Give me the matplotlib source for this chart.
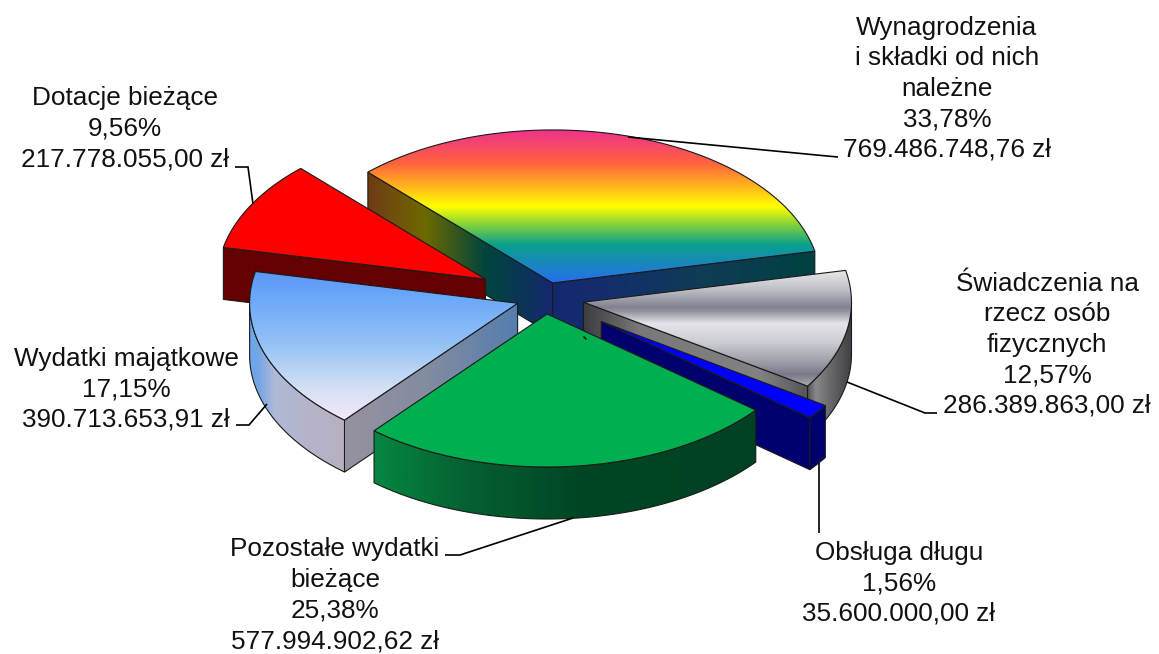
import numpy as np
import matplotlib
matplotlib.use('Agg')
import matplotlib.pyplot as plt
from matplotlib.patches import Polygon

# data
names = ['Wynagrodzenia\ni składki od nich\nnależne', 'Świadczenia na\nrzecz osób\nfizycznych', 'Obsługa długu',
         'Pozostałe wydatki\nbieżące', 'Wydatki majątkowe', 'Dotacje bieżące']
percents = [33.78, 12.57, 1.56, 25.38, 17.15, 9.56]
amounts = [769486748.76, 286389863.00, 35600000.00, 577994902.62, 390713653.91, 217778055.00]

# pie shape, in pixels
cx, cy = 544.5, 298
rx, ry = 268, 153
depth = 52
start_angle = 133.6
explode = [0.103, 0.148, 0.262, 0.105, 0.106, 0.252]

# centre of each label and baseline of its last line
label_pos = [(947, 157), (1047, 413), (899, 621), (335, 648), (126, 427), (125, 166)]
leaders = [[(628, 137), (827, 156), (838, 157)],
           [(847, 382), (925, 413), (937, 413)],
           [(819, 463), (819, 533)],
           [(573, 518), (460, 555), (445, 555)],
           [(267, 404), (249, 425), (236, 425)],
           [(253, 204), (248, 167), (235, 167)]]

# colour stops: (position 0-1, rgb)
top_styles = [
    [(0, (240, 50, 140)), (0.22, (255, 100, 60)), (0.5, (255, 255, 0)), (0.62, (130, 210, 60)),
     (0.75, (10, 160, 140)), (1, (40, 110, 240))],
    [(0, (232, 232, 236)), (0.17, (190, 190, 198)), (0.32, (130, 130, 145)), (0.36, (150, 150, 162)),
     (0.46, (228, 228, 234)), (0.62, (205, 205, 212)), (0.82, (150, 150, 162)), (0.9, (120, 120, 135)),
     (1, (170, 170, 180))],
    [(0, (0, 0, 255)), (1, (0, 0, 255))],
    [(0, (0, 175, 80)), (1, (0, 175, 80))],
    [(0, (90, 150, 245)), (0.2, (110, 170, 250)), (0.5, (150, 195, 245)), (0.8, (215, 225, 245)), (1, (245, 232, 250))],
    [(0, (255, 0, 0)), (1, (255, 0, 0))],
]
side_styles = [
    [(0, (110, 60, 20)), (0.126, (110, 105, 0)), (0.26, (0, 70, 60)), (0.41, (20, 40, 110)), (0.52, (20, 45, 110)),
     (0.75, (15, 60, 85)), (1, (0, 65, 65))],
    [(0, (60, 60, 65)), (0.21, (120, 120, 122)), (0.66, (130, 130, 130)), (0.84, (85, 85, 88)), (0.87, (135, 135, 140)),
     (0.93, (100, 100, 105)), (1, (65, 65, 70))],
    [(0, (0, 0, 110)), (1, (0, 0, 110))],
    [(0, (5, 135, 65)), (0.25, (5, 95, 50)), (0.54, (0, 70, 35)), (1, (0, 65, 35))],
    [(0, (110, 165, 235)), (0.03, (115, 165, 230)), (0.09, (175, 185, 215)), (0.355, (185, 175, 190)), (0.357, (150, 145, 160)),
     (0.67, (130, 140, 160)), (1, (85, 125, 175))],
    [(0, (100, 0, 0)), (1, (100, 0, 0))],
]

plt.rcParams['font.family'] = 'Liberation Sans'
fig = plt.figure(figsize=(11.59, 6.54), dpi=100)
ax = fig.add_axes([0, 0, 1, 1])
ax.set_xlim(0, 1159)
ax.set_ylim(654, 0)
ax.axis('off')

z = 1


def fill_gradient(verts, stops, vertical, lo, hi):
    # gradient image cut down to the polygon
    global z
    verts = np.array(verts)
    pos = [s[0] for s in stops]
    rgb = np.array([s[1] for s in stops]) / 255
    t = np.linspace(0, 1, 400)
    col = np.stack([np.interp(t, pos, rgb[:, i]) for i in range(3)], axis=1)
    if vertical:
        img = col[:, None, :]
        extent = (verts[:, 0].min(), verts[:, 0].max(), hi, lo)
    else:
        img = col[None, :, :]
        extent = (lo, hi, verts[:, 1].max(), verts[:, 1].min())
    im = ax.imshow(img, extent=extent, aspect='auto', origin='upper', zorder=z, interpolation='bilinear')
    poly = Polygon(verts, closed=True, facecolor='none', edgecolor='#1a1a1a', linewidth=0.8, zorder=z + 1)
    ax.add_patch(poly)
    im.set_clip_path(poly)
    z += 2


def rim(x0, y0, a0, a1):
    ang = np.radians(np.linspace(a0, a1, 120))
    return np.column_stack([x0 + rx * np.cos(ang), y0 - ry * np.sin(ang)])


total = sum(amounts)
sweeps = [360 * a / total for a in amounts]
starts = start_angle - np.concatenate([[0], np.cumsum(sweeps)[:-1]])
slices = []
for i in range(len(amounts)):
    a0 = starts[i]
    a1 = a0 - sweeps[i]
    mid = np.radians((a0 + a1) / 2)
    slices.append((a0, a1, cx + explode[i] * rx * np.cos(mid), cy - explode[i] * ry * np.sin(mid)))

# back to front
for i in [0, 5, 1, 4, 2, 3]:
    a0, a1, x0, y0 = slices[i]
    arc = rim(x0, y0, a0, a1)
    lo, hi = arc[:, 0].min(), arc[:, 0].max()
    lo, hi = min(lo, x0), max(hi, x0)

    # faces going down from the two straight edges, if they face the viewer
    if np.sin(np.radians(a0 + 90)) < 0:
        p = arc[0]
        fill_gradient([(x0, y0), p, (p[0], p[1] + depth), (x0, y0 + depth)], side_styles[i], False, lo, hi)
    if np.sin(np.radians(a1 - 90)) < 0:
        p = arc[-1]
        fill_gradient([(x0, y0), p, (p[0], p[1] + depth), (x0, y0 + depth)], side_styles[i], False, lo, hi)

    # outer wall, front part only
    front = np.sin(np.radians(np.linspace(a0, a1, 120))) < 0
    if front.any():
        wall = arc[front]
        verts = np.vstack([wall, wall[::-1] + [0, depth]])
        fill_gradient(verts, side_styles[i], False, lo, hi)

    fill_gradient(np.vstack([[x0, y0], arc]), top_styles[i], True,
                  min(arc[:, 1].min(), y0), max(arc[:, 1].max(), y0))

# small speck on the green slice
ax.plot([584, 586], [337, 339], color='black', lw=1, zorder=z)
z += 1

for pts in leaders:
    xs = [p[0] for p in pts]
    ys = [p[1] for p in pts]
    ax.plot(xs, ys, color='black', lw=1.2, zorder=z, solid_joinstyle='miter', solid_capstyle='butt')


def fmt_amount(v):
    s = f'{v:,.2f}'
    return s.replace(',', ' ').replace('.', ',').replace(' ', '.') + ' zł'


for i in range(len(names)):
    label = names[i] + '\n' + f'{percents[i]:.2f}'.replace('.', ',') + '%\n' + fmt_amount(amounts[i])
    ax.text(label_pos[i][0], label_pos[i][1], label, ha='center', va='baseline', fontsize=18.85,
            linespacing=1.344, color='#111111', zorder=z + 1)

fig.savefig('out.png', dpi=100)
